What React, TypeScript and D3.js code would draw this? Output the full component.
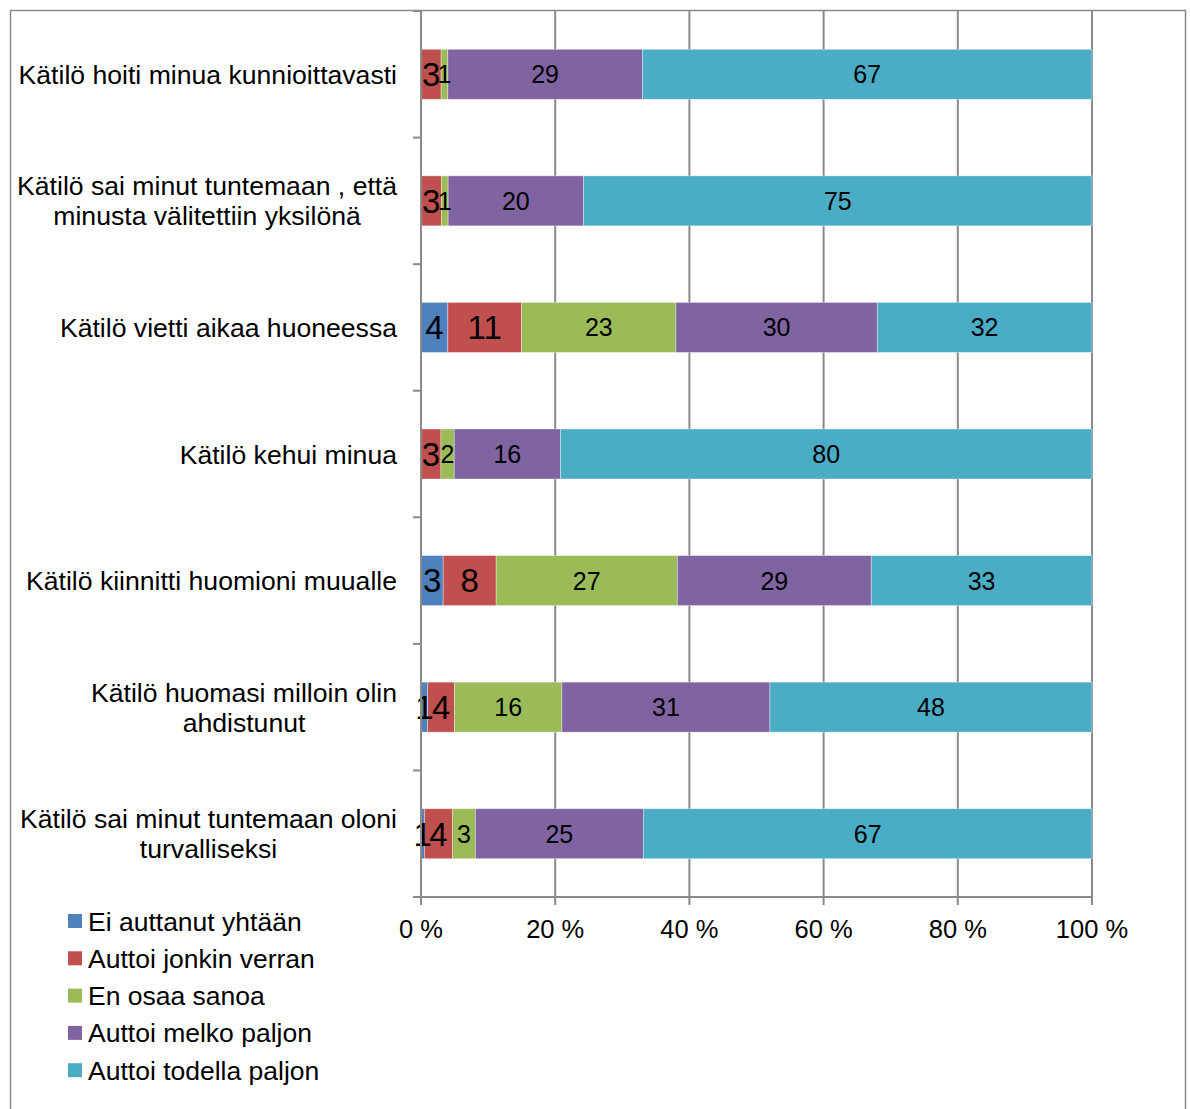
import React, { useEffect, useRef } from 'react';
import * as d3 from 'd3';

// categories (top to bottom), two-line labels split with \n
const categories = [
  'Kätilö hoiti minua kunnioittavasti',
  'Kätilö sai minut tuntemaan , että\nminusta välitettiin yksilönä',
  'Kätilö vietti aikaa huoneessa',
  'Kätilö kehui minua',
  'Kätilö kiinnitti huomioni muualle',
  'Kätilö huomasi milloin olin\nahdistunut',
  'Kätilö sai minut tuntemaan oloni\nturvalliseksi',
];

const seriesNames = [
  'Ei auttanut yhtään',
  'Auttoi jonkin verran',
  'En osaa sanoa',
  'Auttoi melko paljon',
  'Auttoi todella paljon',
];

const eiAuttanut = [0, 0, 4, 0, 3.3, 1, 0.5];
const jonkinVerran = [3, 3, 11, 3, 7.9, 4, 4.2];
const enOsaa = [1, 1, 23, 2, 27, 16, 3.4];
const melkoPaljon = [29, 20, 30, 16, 28.9, 31, 25];
const todellaPaljon = [67, 75, 32, 80, 32.9, 48, 66.8];

const seriesValues = [eiAuttanut, jonkinVerran, enOsaa, melkoPaljon, todellaPaljon];
const colors = ['#4F81BD', '#C0504D', '#9BBB59', '#8064A2', '#4BACC6'];
const bigLabel = [true, true, false, false, false];
const xTicks = [0, 0.2, 0.4, 0.6, 0.8, 1];

const W = 1190, H = 1109;
const FONT = '"Liberation Sans", Arial, sans-serif';

const draw = (node: SVGSVGElement) => {
  const svg = d3.select(node);
  svg.selectAll('*').remove();

  const x = d3.scaleLinear().domain([0, 1]).range([421, 1092]);
  const y = d3.scaleBand<string>().domain(categories).range([11, 897])
    .paddingInner(0.605).paddingOuter(0.3025);

  const rows = categories.map((c, i) => {
    const r: any = { cat: c };
    seriesNames.forEach((s, j) => { r[s] = seriesValues[j][i]; });
    return r;
  });
  const stacked = d3.stack<any>().keys(seriesNames).offset(d3.stackOffsetExpand)(rows);

  // outer frame
  svg.append('rect').attr('x', 10.5).attr('y', 10.5).attr('width', 1175).attr('height', 1110)
    .attr('fill', 'white').attr('stroke', '#898989').attr('stroke-width', 1.5);

  // vertical gridlines
  svg.append('g').selectAll('line').data(xTicks.slice(1)).enter().append('line')
    .attr('x1', d => x(d)).attr('x2', d => x(d)).attr('y1', 11).attr('y2', 897)
    .attr('stroke', '#8a8a8a').attr('stroke-width', 2);

  // bars
  stacked.forEach((layer, j) => {
    svg.append('g').attr('fill', colors[j]).selectAll('rect').data(layer).enter().append('rect')
      .attr('x', d => x(d[0])).attr('width', d => x(d[1]) - x(d[0]))
      .attr('y', d => y(d.data.cat)!).attr('height', y.bandwidth())
      .attr('stroke', 'white').attr('stroke-width', 0.7).attr('stroke-opacity', 0.5);
  });

  // data labels
  stacked.forEach((layer, j) => {
    svg.append('g').selectAll('text').data(layer.filter(d => d.data[seriesNames[j]] > 0)).enter()
      .append('text')
      .attr('x', d => (x(d[0]) + x(d[1])) / 2)
      .attr('y', d => y(d.data.cat)! + y.bandwidth() / 2)
      .attr('dy', '0.36em')
      .attr('text-anchor', 'middle')
      .attr('font-family', FONT)
      .attr('font-size', bigLabel[j] ? 33 : 25)
      .attr('fill', 'black')
      .text(d => String(Math.round(d.data[seriesNames[j]])));
  });

  // left axis
  const ax = svg.append('g').attr('stroke', '#8a8a8a').attr('stroke-width', 2);
  ax.append('line').attr('x1', 421).attr('x2', 421).attr('y1', 11).attr('y2', 898);
  const bounds = categories.map(c => y(c)! - (y.step() - y.bandwidth()) / 2).concat([897]);
  ax.selectAll('.yt').data(bounds).enter().append('line')
    .attr('x1', 413).attr('x2', 421).attr('y1', d => d).attr('y2', d => d);

  // bottom axis
  ax.append('line').attr('x1', 413).attr('x2', 1092).attr('y1', 897).attr('y2', 897);
  ax.selectAll('.xt').data(xTicks).enter().append('line')
    .attr('x1', d => x(d)).attr('x2', d => x(d)).attr('y1', 897).attr('y2', 905);

  svg.append('g').selectAll('text').data(xTicks).enter().append('text')
    .attr('x', d => x(d)).attr('y', 938)
    .attr('text-anchor', 'middle').attr('font-family', FONT).attr('font-size', 25.5)
    .text(d => `${Math.round(d * 100)} %`);

  // category labels, right edge at 397, lines centered on each other
  categories.forEach(c => {
    const lines = c.split('\n');
    const cy = y(c)! + y.bandwidth() / 2;
    const t = svg.append('text').attr('text-anchor', 'middle')
      .attr('font-family', FONT).attr('font-size', 26.6);
    lines.forEach((l, k) => {
      t.append('tspan').attr('y', cy + (k - (lines.length - 1) / 2) * 30).attr('dy', '0.36em').text(l);
    });
    let maxW = 0;
    t.selectAll<SVGTSpanElement, unknown>('tspan').each(function () {
      maxW = Math.max(maxW, this.getComputedTextLength());
    });
    t.selectAll('tspan').attr('x', 397 - maxW / 2);
  });

  // legend
  const lg = svg.append('g').selectAll('g').data(seriesNames).enter().append('g')
    .attr('transform', (d, i) => `translate(68, ${921 + i * 37.3})`);
  lg.append('rect').attr('x', 0).attr('y', -7).attr('width', 14).attr('height', 14)
    .attr('fill', (d, i) => colors[i]);
  lg.append('text').attr('x', 20).attr('y', 0).attr('dy', '0.36em')
    .attr('font-family', FONT).attr('font-size', 26.5).text(d => d);
};

const App = () => {
  const ref = useRef<SVGSVGElement>(null);
  useEffect(() => {
    if (ref.current) draw(ref.current);
  }, []);
  return (
    <svg ref={ref} width={W} height={H}
      style={{ position: 'absolute', left: 0, top: 0, background: 'white' }} />
  );
};

export default App;
